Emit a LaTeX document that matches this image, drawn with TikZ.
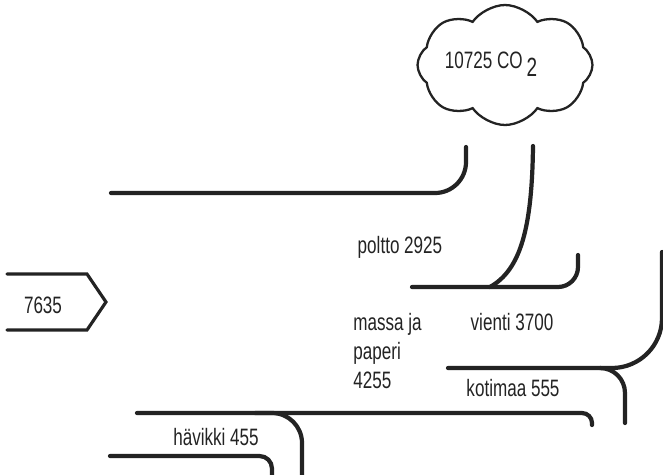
\documentclass[tikz,border=0pt]{standalone}
\usepackage{fontspec}
\setmainfont{Liberation Sans}[FakeStretch=0.72]
\usepackage{tikz}
\usetikzlibrary{
shapes.symbols
}
\definecolor{inkgray}{RGB}{35,35,35}

\begin{document}
\begin{tikzpicture}[
  x=0.02cm, y=-0.02cm,
  every node/.style={font=\fontsize{13.5}{16.5}\selectfont, text=inkgray, inner sep=0pt},
  flow/.style={draw=inkgray, line width=2.4pt, line cap=round},
  inbox/.style={draw=inkgray, line width=1.8pt, line cap=round},
  amount/.style={anchor=center}
]
\useasboundingbox (0,0) rectangle (663,474);

%% Cloud with the total
\node[draw=inkgray, line width=1.3pt, cloud, cloud puffs=8, cloud puff arc=110,
      aspect=1.45, minimum width=3.5cm, minimum height=2.4cm] (co2) at (505,65) {};
\node[amount] (co2txt) at (491,64) {10725 CO\,\raisebox{-0.6ex}{\fontsize{15}{15}\selectfont 2}};

%% Incoming wood
\draw[inbox] (7,274) -- (87,274) -- (106,302) -- (87,330) -- (7,330);
\node[amount] (wood) at (43,305) {7635};

%% Upper flow to the cloud
\draw[flow, rounded corners=0.62cm] (111,193) -- (466,193) -- (466,147);

%% poltto
\draw[flow] (533,146) .. controls (532,230) and (520,270) .. (490,287);
\draw[flow, rounded corners=0.4cm] (412,287) -- (578,287) -- (578,255);
\node[amount] (burn) at (400,247) {poltto 2925};

%% massa ja paperi
\node[anchor=west, align=left] (pulp) at (353,351) {massa ja\\paperi\\4255};
\node[amount] (export) at (512,322) {vienti 3700};

%% vienti and kotimaa
\draw[flow, rounded corners=1cm] (448,368) -- (662,368) -- (662,252);
\draw[flow, rounded corners=0.5cm] (600,368) -- (625,368) -- (625,423);
\node[amount] (home) at (513,388) {kotimaa 555};
\draw[flow, rounded corners=0.2cm] (137,413) -- (592,413) -- (592,425);

%% hävikki
\draw[flow, rounded corners=0.6cm] (255,413) -- (302,413) -- (302,480);
\node[amount] (loss) at (216,437) {hävikki 455};
\draw[flow, rounded corners=0.25cm] (110,456) -- (272,456) -- (272,480);

\end{tikzpicture}
\end{document}
